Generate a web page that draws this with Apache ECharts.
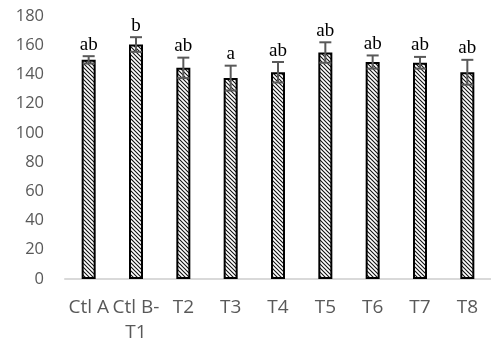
<!DOCTYPE html>
<html><head><meta charset="utf-8">
<script src="https://cdn.jsdelivr.net/npm/echarts@6/dist/echarts.min.js"></script>
<style>html,body{margin:0;padding:0;background:#fff}#c{width:491px;height:345px}</style>
</head><body><div id="c"></div>
<script>
const categories = ['Ctl A', 'Ctl B-\nT1', 'T2', 'T3', 'T4', 'T5', 'T6', 'T7', 'T8'];
const means = [150, 160.5, 144.5, 137.5, 141.5, 155, 148.5, 148, 141.5];
const errors = [2.5, 5, 7, 8.5, 7, 7, 4.5, 4, 8.5];
const letters = ['ab', 'b', 'ab', 'a', 'ab', 'ab', 'ab', 'ab', 'ab'];
const yTicks = [0, 20, 40, 60, 80, 100, 120, 140, 160, 180];

function hatch() {
  const s = 4;
  const c = document.createElement('canvas');
  c.width = s; c.height = s;
  const g = c.getContext('2d');
  g.fillStyle = '#fff'; g.fillRect(0, 0, s, s);
  g.strokeStyle = '#111'; g.lineWidth = 1.1;
  g.beginPath();
  g.moveTo(-1, -1); g.lineTo(s + 1, s + 1);
  g.moveTo(-1 - s, -1); g.lineTo(1, s + 1);
  g.moveTo(s - 1, -1); g.lineTo(2 * s + 1, s + 1);
  g.stroke();
  return c;
}

const chart = echarts.init(document.getElementById('c'));
chart.setOption({
  animation: false,
  grid: { left: 65, top: 16, width: 434, height: 267, containLabel: false },
  xAxis: {
    type: 'category', data: categories,
    axisLine: { lineStyle: { color: '#d9d9d9', width: 2 } },
    axisTick: { show: false },
    axisLabel: { color: '#595959', fontSize: 19, fontFamily: 'Open Sans', margin: 16, lineHeight: 25, interval: 0 }
  },
  yAxis: {
    type: 'value', min: 0, max: 180, interval: 20,
    axisLine: { show: false }, axisTick: { show: false }, splitLine: { show: false },
    axisLabel: { color: '#595959', fontSize: 16.5, fontFamily: 'Open Sans', margin: 21,
      formatter: v => yTicks.includes(v) ? String(v) : '' }
  },
  series: [
    {
      type: 'bar', data: means, barWidth: 14,
      itemStyle: { color: { image: hatch(), repeat: 'repeat' }, borderColor: '#000', borderWidth: 2 }
    },
    {
      type: 'custom',
      data: means.map((m, i) => [i, m, errors[i]]),
      renderItem: function (params, api) {
        const i = api.value(0), m = api.value(1), e = api.value(2);
        const top = api.coord([i, m + e]);
        const bot = api.coord([i, m - e]);
        const hw = 6;
        return {
          type: 'group',
          children: [
            { type: 'line', shape: { x1: top[0], y1: top[1], x2: bot[0], y2: bot[1] }, style: { stroke: '#595959', lineWidth: 2 } },
            { type: 'line', shape: { x1: top[0] - hw, y1: top[1], x2: top[0] + hw, y2: top[1] }, style: { stroke: '#595959', lineWidth: 2 } },
            { type: 'line', shape: { x1: bot[0] - hw, y1: bot[1], x2: bot[0] + hw, y2: bot[1] }, style: { stroke: '#595959', lineWidth: 2 } },
            { type: 'text', style: { text: letters[params.dataIndex], x: top[0], y: top[1] - 2, align: 'center', verticalAlign: 'bottom', fill: '#000', font: '19px "Liberation Serif"' } }
          ]
        };
      },
      z: 5
    }
  ]
});
</script></body></html>
